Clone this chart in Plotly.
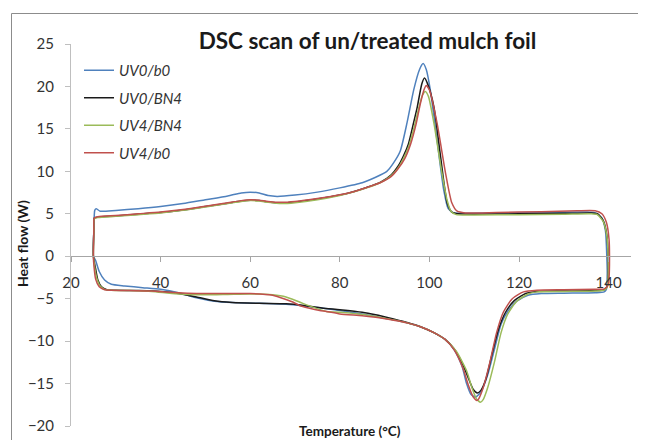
import plotly.graph_objects as go

# ---------------- data ----------------
names = ["UV0/b0", "UV0/BN4", "UV4/BN4", "UV4/b0"]
colors = ["#4F81BD", "#1a1a1a", "#9BBB59", "#C0504D"]

# UV0/b0  (heating then cooling, closed loop)
t_uv0_b0 = [25.0, 25.1, 25.3, 25.6, 26.5, 30, 35, 40, 45, 50, 55, 58, 60, 62, 64, 66, 70, 75, 80, 85, 88,
            90.5, 92, 93.5, 95, 96.5, 97.8, 98.6, 99.3, 100.2, 101.7, 103.2, 104.2, 105.5, 108, 115, 125,
            135, 137, 138.5, 139.3, 139.6, 139.7, 139.6,
            139.5, 139, 137, 130, 125, 122, 119.5, 117.5, 116, 114.5, 113, 111.5, 110.3, 109.3, 108.3,
            107.3, 105.5, 103.5, 101, 98, 95, 92, 88, 85, 80, 76, 72, 68, 62, 56, 52, 48, 44, 40, 36, 32,
            29, 27.5, 26.3, 25.5, 25.0]
w_uv0_b0 = [0.0, 3.0, 5.4, 5.6, 5.3, 5.4, 5.6, 5.85, 6.2, 6.65, 7.1, 7.45, 7.55, 7.45, 7.15, 7.05, 7.2, 7.55,
            8.05, 8.65, 9.3, 10.0, 11.0, 12.4, 15.7, 19.6, 22.0, 22.7, 22.0, 19.6, 13.7, 7.8, 5.6, 5.1, 5.05,
            5.1, 5.15, 5.2, 5.1, 4.5, 3.0, 0.0, -2.0, -3.5,
            -3.9, -4.2, -4.3, -4.35, -4.4, -4.6, -5.3, -6.5, -8.0, -11.0, -14.0, -16.0, -16.6, -16.3, -15.0,
            -13.0, -11.0, -9.8, -9.0, -8.3, -7.85, -7.5, -7.1, -6.8, -6.4, -6.1, -5.85, -5.65, -5.55, -5.45,
            -5.3, -4.9, -4.3, -3.9, -3.7, -3.5, -3.3, -2.8, -1.8, -0.5, 0.0]

# UV0/BN4
t_uv0_bn4 = [25.0, 25.1, 25.2, 26, 30, 35, 40, 45, 50, 55, 58, 60, 62, 64, 67, 70, 75, 80, 83, 86, 89, 91.5,
             93, 94.2, 95.3, 96.5, 97.3, 98.3, 98.9, 99.6, 101, 102.5, 104, 105, 106.5, 110, 120, 130, 136,
             137.5, 138.8, 139.6, 139.9, 139.9, 139.6,
             139, 137, 130, 124, 121.5, 119, 117, 115.5, 114, 112.6, 111.5, 110.7, 109.8, 108.8, 107.5,
             105.5, 103.5, 101, 98, 95, 92, 88, 85, 80, 76, 72, 68, 62, 56, 52, 48, 44, 40, 35, 30, 28,
             26.8, 26, 25.5, 25.0]
w_uv0_bn4 = [0.0, 3.0, 4.5, 4.6, 4.75, 4.95, 5.15, 5.45, 5.85, 6.25, 6.5, 6.6, 6.55, 6.4, 6.3, 6.4, 6.75,
             7.2, 7.6, 8.1, 8.7, 9.6, 10.6, 11.8, 13.2, 15.8, 17.6, 20.3, 21.0, 20.3, 17.6, 11.7, 6.2, 5.2,
             5.0, 4.95, 5.0, 5.05, 5.1, 5.0, 4.2, 2.5, 0.0, -2.5, -3.6,
             -3.95, -4.05, -4.1, -4.15, -4.4, -5.2, -6.6, -8.5, -11.5, -14.5, -15.8, -16.1, -15.7, -14.5,
             -12.8, -10.9, -9.8, -9.0, -8.3, -7.8, -7.4, -6.9, -6.6, -6.3, -6.1, -5.8, -5.6, -5.55, -5.45,
             -5.25, -4.8, -4.4, -4.15, -4.05, -4.0, -3.95, -3.6, -2.8, -1.5, 0.0]

# UV4/BN4
t_uv4_bn4 = [25.0, 25.1, 25.2, 26, 30, 35, 40, 45, 50, 55, 58, 60, 62, 64, 67, 70, 75, 80, 83, 86, 89, 91.5,
             93, 94.2, 95.3, 96.5, 97.5, 98.4, 99.1, 99.8, 101, 102.8, 104, 104.8, 106, 110, 120, 130, 136,
             137.5, 138.8, 139.6, 139.9, 139.9, 139.6,
             139, 137, 130, 124, 122, 119.5, 117.5, 116, 114.5, 113, 112, 111.4, 110.5, 109.5, 108.3, 106,
             103.5, 101, 98, 95, 92, 88, 85, 80, 77, 74, 71, 68, 65, 60, 55, 50, 46, 42, 38, 33, 29, 27.5,
             26.5, 25.7, 25.2, 25.0]
w_uv4_bn4 = [0.0, 3.0, 4.4, 4.55, 4.7, 4.9, 5.1, 5.4, 5.8, 6.2, 6.45, 6.55, 6.5, 6.35, 6.2, 6.3, 6.65, 7.15,
             7.55, 8.05, 8.65, 9.5, 10.4, 11.5, 12.8, 15.0, 17.2, 18.9, 19.4, 18.8, 15.7, 9.8, 6.5, 5.3, 4.9,
             4.85, 4.9, 4.95, 5.0, 4.9, 4.1, 2.4, 0.0, -2.5, -3.7,
             -4.0, -4.1, -4.15, -4.2, -4.45, -5.3, -6.8, -9.0, -12.5, -15.5, -16.9, -17.2, -16.8, -15.5,
             -13.5, -11.2, -9.8, -9.0, -8.3, -7.85, -7.5, -7.1, -6.85, -6.6, -6.5, -6.0, -5.4, -4.8, -4.55,
             -4.45, -4.5, -4.55, -4.5, -4.35, -4.15, -4.05, -4.0, -3.9, -3.5, -2.5, -1.0, 0.0]

# UV4/b0
t_uv4_b0 = [25.0, 25.1, 25.2, 26, 30, 35, 40, 45, 50, 55, 58, 60, 62, 64, 67, 70, 75, 80, 83, 86, 89, 91.5,
            93, 94.5, 95.8, 97, 98, 98.8, 99.3, 100, 101.7, 103.6, 105, 106.2, 108, 115, 125, 133, 137,
            138.5, 139.5, 140.1, 140.2, 140.1, 139.8,
            139, 137, 130, 124, 121, 118.5, 116.5, 115, 113.5, 112, 111, 110.6, 109.8, 108.7, 107.5, 105.5,
            103.5, 101, 98, 95, 92, 88, 85, 80, 77, 75.5, 73, 71, 69.5, 68, 65, 60, 55, 50, 46, 42, 38, 33,
            29, 27.5, 26.3, 25.5, 25.1, 25.0]
w_uv4_b0 = [0.0, 3.0, 4.5, 4.65, 4.8, 5.0, 5.2, 5.5, 5.9, 6.3, 6.55, 6.65, 6.6, 6.45, 6.35, 6.45, 6.8, 7.25,
            7.6, 8.1, 8.65, 9.4, 10.3, 11.5, 13.2, 15.5, 18.0, 19.6, 20.1, 19.6, 15.7, 9.8, 6.3, 5.3, 5.1,
            5.15, 5.25, 5.35, 5.35, 5.0, 4.0, 2.0, 0.0, -2.5, -3.5,
            -3.85, -3.9, -3.95, -4.0, -4.2, -5.0, -6.6, -9.0, -12.5, -15.5, -16.8, -17.0, -16.6, -15.2,
            -13.2, -11.0, -9.8, -9.0, -8.3, -7.85, -7.55, -7.2, -7.0, -6.8, -6.5, -6.4, -6.1, -5.8, -5.4,
            -5.1, -4.6, -4.4, -4.4, -4.4, -4.35, -4.25, -4.1, -4.05, -4.0, -3.95, -3.6, -2.7, -1.0, 0.0]

x_tick_vals = [20, 40, 60, 80, 100, 120, 140]
y_tick_vals = [-20, -15, -10, -5, 0, 5, 10, 15, 20, 25]

series_t = [t_uv0_b0, t_uv0_bn4, t_uv4_bn4, t_uv4_b0]
series_w = [w_uv0_b0, w_uv0_bn4, w_uv4_bn4, w_uv4_b0]

# ---------------- figure ----------------
OFF = 8                      # page body margin
W, H = 646 - OFF, 440 - OFF  # figure fits inside the window
# plot area in page pixels: x 71..631, y 44..426
ml, mt = 71 - OFF, 44 - OFF
mr, mb = W - (631 - OFF), H - (426 - OFF)
pw, ph = W - ml - mr, H - mt - mb
xr = [20, 145]
yr = [-20, 25]

def px_x(p):  # page pixel -> paper x
    return (p - OFF - ml) / pw

def px_y(p):  # page pixel -> paper y
    return (H - mb - (p - OFF)) / ph

fig = go.Figure()
for nm, col, tt, ww in zip(names, colors, series_t, series_w):
    fig.add_trace(go.Scatter(
        x=tt, y=ww, mode="lines", name="<i>" + nm + "</i>", legendgroup=nm,
        line=dict(color=col, width=1.5, shape="spline", smoothing=0.6),
    ))

font_fam = "Lato, 'Open Sans', sans-serif"
axis_grey = "#a6a6a6"

fig.update_layout(
    template="none",
    width=W, height=H,
    margin=dict(l=ml, r=mr, t=mt, b=mb, autoexpand=False),
    paper_bgcolor="white", plot_bgcolor="white",
    font=dict(family=font_fam, color="#333333"),
    showlegend=True,
    legend=dict(x=px_x(79), y=px_y(54), xanchor="left", yanchor="top",
                bgcolor="rgba(0,0,0,0)", borderwidth=0, font=dict(size=15, color="#333333"),
                tracegroupgap=5, itemwidth=30),
    xaxis=dict(range=xr, tickvals=x_tick_vals, showgrid=False, zeroline=False, automargin=False,
               showline=True, linecolor=axis_grey, linewidth=1,
               ticks="outside", ticklen=5, tickcolor=axis_grey,
               anchor="free", position=(0 - yr[0]) / (yr[1] - yr[0]),
               tickfont=dict(size=15, color="#333333"), ticklabelstandoff=8),
    yaxis=dict(range=yr, tickvals=y_tick_vals, showgrid=False, zeroline=False, automargin=False,
               showline=True, linecolor="#bfbfbf", linewidth=1,
               ticks="outside", ticklen=5, tickcolor="#bfbfbf",
               tickfont=dict(size=15, color="#333333"), ticklabelstandoff=8),
    title=dict(text="<b>DSC scan of un/treated mulch foil</b>",
               xref="container", x=(367.5 - OFF) / W, xanchor="center",
               yref="container", y=1 - (41 - OFF) / H, yanchor="middle",
               font=dict(size=22.5, color="#1a1a1a", family=font_fam)),
    annotations=[
        dict(text="<b>Heat flow (W)</b>", xref="paper", yref="paper", x=px_x(22), y=px_y(244),
             xanchor="center", yanchor="middle", textangle=-90, showarrow=False,
             font=dict(size=14, color="#1a1a1a")),
        dict(text="<b>Temperature (°C)</b>", xref="paper", yref="paper", x=px_x(350), y=px_y(431),
             xanchor="center", yanchor="middle", showarrow=False,
             font=dict(size=13.5, color="#1a1a1a")),
    ],
    shapes=[
        dict(type="rect", xref="paper", yref="paper", x0=px_x(11.5), x1=px_x(660),
             y0=px_y(460), y1=px_y(13.5), line=dict(color="#8c8c8c", width=1), layer="below"),
    ],
)

fig.write_html("out.html")
